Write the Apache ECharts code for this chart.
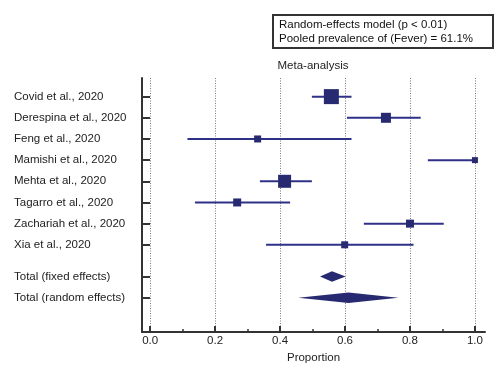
<!DOCTYPE html>
<html>
<head>
<meta charset="utf-8">
<script src="https://cdn.jsdelivr.net/npm/echarts@6/dist/echarts.min.js"></script>
<style>html,body{margin:0;padding:0;background:#fff}#c{width:495px;height:371px}</style>
</head>
<body>
<div id="c"></div>
<script>
// ---- data ----
const studies = ['Covid et al., 2020','Derespina et al., 2020','Feng et al., 2020','Mamishi et al., 2020','Mehta et al., 2020','Tagarro et al., 2020','Zachariah et al., 2020','Xia et al., 2020'];
const estimates = [0.558, 0.726, 0.331, 1.0, 0.414, 0.268, 0.800, 0.599];
const lowerCI   = [0.498, 0.606, 0.115, 0.855, 0.338, 0.138, 0.658, 0.357];
const upperCI   = [0.620, 0.833, 0.620, 1.000, 0.498, 0.431, 0.904, 0.811];
const weights   = [15, 10, 7, 6, 13, 8, 8, 7];
const studyRows = [0, 1, 2, 3, 4, 5, 6, 7];
const totalNames = ['Total (fixed effects)', 'Total (random effects)'];
const totalRows  = [8.5, 9.5];
const totalEst   = [0.560, 0.611];
const totalLower = [0.523, 0.456];
const totalUpper = [0.602, 0.764];
const majorTicks = [0, 0.2, 0.4, 0.6, 0.8, 1.0];
const minorTicks = [0.1, 0.3, 0.5, 0.7, 0.9];
const legendLines = ['Random-effects model (p < 0.01)', 'Pooled prevalence of (Fever) = 61.1%'];
const chartTitle = 'Meta-analysis';
const xName = 'Proportion';

const rowLabels = {};
studyRows.forEach((r, i) => rowLabels[r] = studies[i]);
totalRows.forEach((r, i) => rowLabels[r] = totalNames[i]);

const FONT = "'Liberation Sans', Arial, sans-serif";
const LINE = '#2f3187';
const MARK = '#272a70';
const AX = '#333';

const chart = echarts.init(document.getElementById('c'), null, {renderer: 'canvas'});
const xCommon = {type: 'value', min: -0.025, max: 1.031, gridIndex: 0};
chart.setOption({
  animation: false,
  backgroundColor: '#fff',
  title: {
    text: chartTitle, left: 313, top: 60, textAlign: 'center', padding: 0,
    textStyle: {fontFamily: FONT, fontSize: 11.5, fontWeight: 'normal', color: '#222'}
  },
  grid: {left: 142, right: 10, top: 78, bottom: 39, containLabel: false},
  xAxis: [
    Object.assign({}, xCommon, {
      position: 'bottom',
      name: xName, nameLocation: 'middle', nameGap: 20,
      nameTextStyle: {fontFamily: FONT, fontSize: 11.5, color: '#222'},
      axisLine: {show: true, onZero: false, lineStyle: {color: AX, width: 2}},
      axisTick: {show: true, inside: true, length: 6, lineStyle: {color: AX, width: 2}, customValues: majorTicks},
      axisLabel: {show: true, margin: 3, customValues: majorTicks, fontFamily: FONT, fontSize: 11.5, color: '#222',
        formatter: v => Number(v).toFixed(1)},
      splitLine: {show: true, lineStyle: {color: '#7a7a7a', width: 1, type: [1, 1.5]}}
    }),
    Object.assign({}, xCommon, {
      position: 'bottom',
      axisLine: {show: false, onZero: false},
      axisTick: {show: true, inside: true, length: 3, lineStyle: {color: AX, width: 1.5}, customValues: minorTicks},
      axisLabel: {show: false},
      splitLine: {show: false}
    })
  ],
  yAxis: {
    type: 'value', inverse: true, min: -0.88, max: 11.12,
    axisLine: {show: true, onZero: false, lineStyle: {color: AX, width: 2}},
    axisTick: {show: true, inside: true, length: 8, lineStyle: {color: AX, width: 2}, customValues: studyRows.concat(totalRows)},
    axisLabel: {show: true, align: 'left', margin: 128, customValues: studyRows.concat(totalRows),
      fontFamily: FONT, fontSize: 11.5, color: '#222', formatter: v => rowLabels[v] || ''},
    splitLine: {show: false}
  },
  graphic: [{
    type: 'group', left: 272, top: 14,
    children: [
      {type: 'rect', shape: {x: 0, y: 0, width: 220, height: 33}, style: {fill: '#fff', stroke: AX, lineWidth: 2}},
      {type: 'text', x: 6, y: 9.5, style: {text: legendLines[0], font: '11.5px ' + FONT, fill: '#111', verticalAlign: 'middle'}},
      {type: 'text', x: 6, y: 23.5, style: {text: legendLines[1], font: '11.5px ' + FONT, fill: '#111', verticalAlign: 'middle'}}
    ]
  }],
  series: [
    {
      type: 'custom', xAxisIndex: 0, yAxisIndex: 0, clip: false,
      data: studyRows.map((r, i) => [lowerCI[i], upperCI[i], r]),
      renderItem: (params, api) => {
        const a = api.coord([api.value(0), api.value(2)]);
        const b = api.coord([api.value(1), api.value(2)]);
        return {type: 'line', shape: {x1: a[0], y1: a[1], x2: b[0], y2: b[1]}, style: {stroke: LINE, lineWidth: 2}};
      }
    },
    {
      type: 'scatter', xAxisIndex: 0, yAxisIndex: 0, symbol: 'rect',
      data: studyRows.map((r, i) => [estimates[i], r, weights[i]]),
      symbolSize: d => d[2],
      itemStyle: {color: MARK, opacity: 1},
      clip: false
    },
    {
      type: 'custom', xAxisIndex: 0, yAxisIndex: 0, clip: false,
      data: totalRows.map((r, i) => [totalLower[i], totalEst[i], totalUpper[i], r]),
      renderItem: (params, api) => {
        const y = api.value(3);
        const l = api.coord([api.value(0), y]);
        const m = api.coord([api.value(1), y]);
        const u = api.coord([api.value(2), y]);
        const h = 5.2;
        return {type: 'polygon', shape: {points: [[l[0], l[1]], [m[0], m[1] - h], [u[0], u[1]], [m[0], m[1] + h]]},
          style: {fill: MARK}};
      }
    }
  ]
});
</script>
</body>
</html>
